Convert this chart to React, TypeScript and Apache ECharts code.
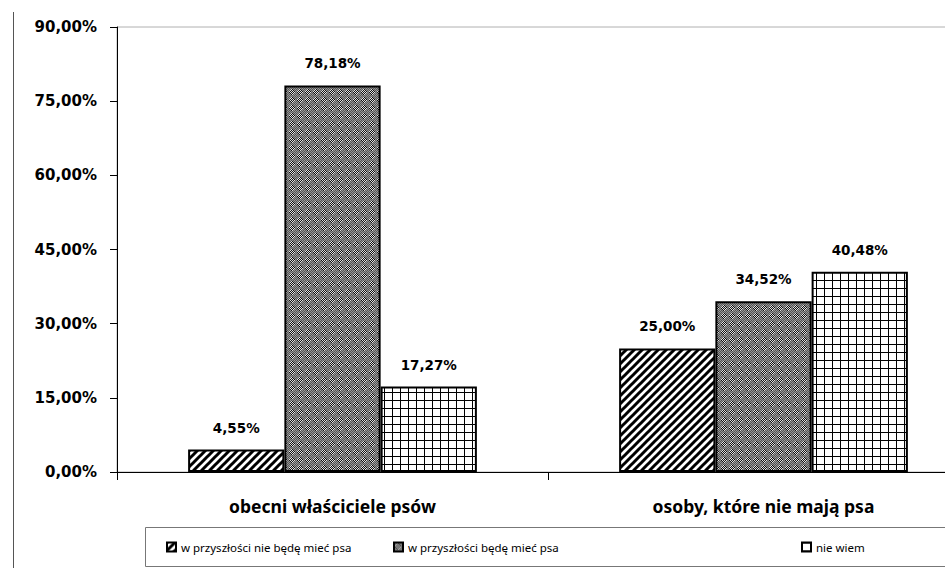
import React, { useEffect, useRef } from "react";
import * as echarts from "echarts";

// Respondent groups on the category axis
const categories = ["obecni właściciele psów", "osoby, które nie mają psa"];

// Answer series (percent of each group)
const seriesNames = [
  "w przyszłości nie będę mieć psa",
  "w przyszłości będę mieć psa",
  "nie wiem",
];
const noDogInFuture = [4.55, 25.0];
const dogInFuture = [78.18, 34.52];
const dontKnow = [17.27, 40.48];

// Value axis range
const yMin = 0;
const yMax = 90;
const yStep = 15;

const pct = (v: number) => v.toFixed(2).replace(".", ",") + "%";

function makeTile(draw: (ctx: CanvasRenderingContext2D) => void) {
  const c = document.createElement("canvas");
  c.width = 8;
  c.height = 8;
  const ctx = c.getContext("2d")!;
  draw(ctx);
  return c;
}

// Black "////" hatching
function hatchTile() {
  return makeTile((ctx) => {
    ctx.fillStyle = "#ffffff";
    ctx.fillRect(0, 0, 8, 8);
    ctx.strokeStyle = "#000000";
    ctx.lineWidth = 3;
    ctx.beginPath();
    ctx.moveTo(-1, 9);
    ctx.lineTo(9, -1);
    ctx.moveTo(-2, 2);
    ctx.lineTo(2, -2);
    ctx.moveTo(6, 10);
    ctx.lineTo(10, 6);
    ctx.stroke();
  });
}

// Grey pixel checker with darker/lighter blobs
function dotTile() {
  return makeTile((ctx) => {
    const img = ctx.createImageData(8, 8);
    for (let y = 0; y < 8; y++) {
      for (let x = 0; x < 8; x++) {
        const odd = (x + y) % 2 === 1;
        const blob = Math.abs(x - 3.5) + Math.abs(y - 3.5) <= 3;
        let v: number;
        if (blob) v = odd ? 15 : 225;
        else v = odd ? 85 : 150;
        const i = (y * 8 + x) * 4;
        img.data[i] = v;
        img.data[i + 1] = v;
        img.data[i + 2] = v;
        img.data[i + 3] = 255;
      }
    }
    ctx.putImageData(img, 0, 0);
  });
}

// Thin square grid
function gridTile() {
  return makeTile((ctx) => {
    ctx.fillStyle = "#ffffff";
    ctx.fillRect(0, 0, 8, 8);
    ctx.fillStyle = "#000000";
    ctx.fillRect(0, 0, 8, 1);
    ctx.fillRect(0, 0, 1, 8);
  });
}

export default function App() {
  const ref = useRef<HTMLDivElement>(null);

  useEffect(() => {
    if (!ref.current) return;
    const chart = echarts.init(ref.current, undefined, { renderer: "svg" });

    const fills = [hatchTile(), dotTile(), gridTile()];
    const values = [noDogInFuture, dogInFuture, dontKnow];
    const legendLefts = [166, 393, 801];

    const labelFont = {
      fontFamily: "DejaVu Sans",
      fontWeight: "bold" as const,
      color: "#000",
    };

    chart.setOption({
      animation: false,
      backgroundColor: "#ffffff",
      grid: {
        left: 117,
        top: 27,
        width: 862,
        height: 445,
        outerBoundsMode: "none",
        show: true,
        borderColor: "#b0b0b0",
        borderWidth: 1,
      },
      xAxis: {
        type: "category",
        data: categories,
        axisLine: { lineStyle: { color: "#000", width: 1 } },
        axisTick: { show: true, length: 8, lineStyle: { color: "#000" } },
        axisLabel: {
          margin: 25,
          fontFamily: "Noto Sans",
          fontWeight: "bold",
          fontSize: 17.5,
          color: "#000",
        },
      },
      yAxis: {
        type: "value",
        min: yMin,
        max: yMax,
        interval: yStep,
        splitLine: { show: false },
        axisLine: { show: true, lineStyle: { color: "#000", width: 1 } },
        axisTick: { show: true, length: 7, lineStyle: { color: "#000" } },
        axisLabel: {
          ...labelFont,
          fontSize: 15,
          margin: 20,
          formatter: (v: number) => pct(v),
        },
      },
      legend: seriesNames.map((name, i) => ({
        data: [name],
        left: legendLefts[i],
        top: 541,
        padding: 0,
        itemWidth: 9,
        itemHeight: 9,
        icon: "rect",
        selectedMode: false,
        textStyle: {
          fontFamily: "Noto Sans",
          fontSize: 11.5,
          color: "#000",
        },
      })),
      graphic: [
        {
          type: "line",
          shape: { x1: 13.5, y1: 12, x2: 13.5, y2: 568 },
          style: { stroke: "#555", lineWidth: 1 },
        },
        {
          type: "rect",
          shape: { x: 145.5, y: 527.5, width: 900, height: 39 },
          style: { fill: "none", stroke: "#777", lineWidth: 1 },
        },
      ],
      series: seriesNames.map((name, i) => ({
        name,
        type: "bar",
        data: values[i],
        barGap: "0%",
        barCategoryGap: "33%",
        itemStyle: {
          color: { image: fills[i], repeat: "repeat" },
          borderColor: "#000",
          borderWidth: 2,
        },
        label: {
          show: true,
          position: "top",
          distance: 15,
          ...labelFont,
          fontSize: 13.5,
          formatter: (p: any) => pct(p.value),
        },
      })),
    });

    return () => chart.dispose();
  }, []);

  return (
    <div
      style={{
        position: "absolute",
        left: 0,
        top: 0,
        width: 945,
        height: 568,
        overflow: "hidden",
      }}
    >
      <div ref={ref} style={{ width: 1000, height: 568 }} />
    </div>
  );
}
